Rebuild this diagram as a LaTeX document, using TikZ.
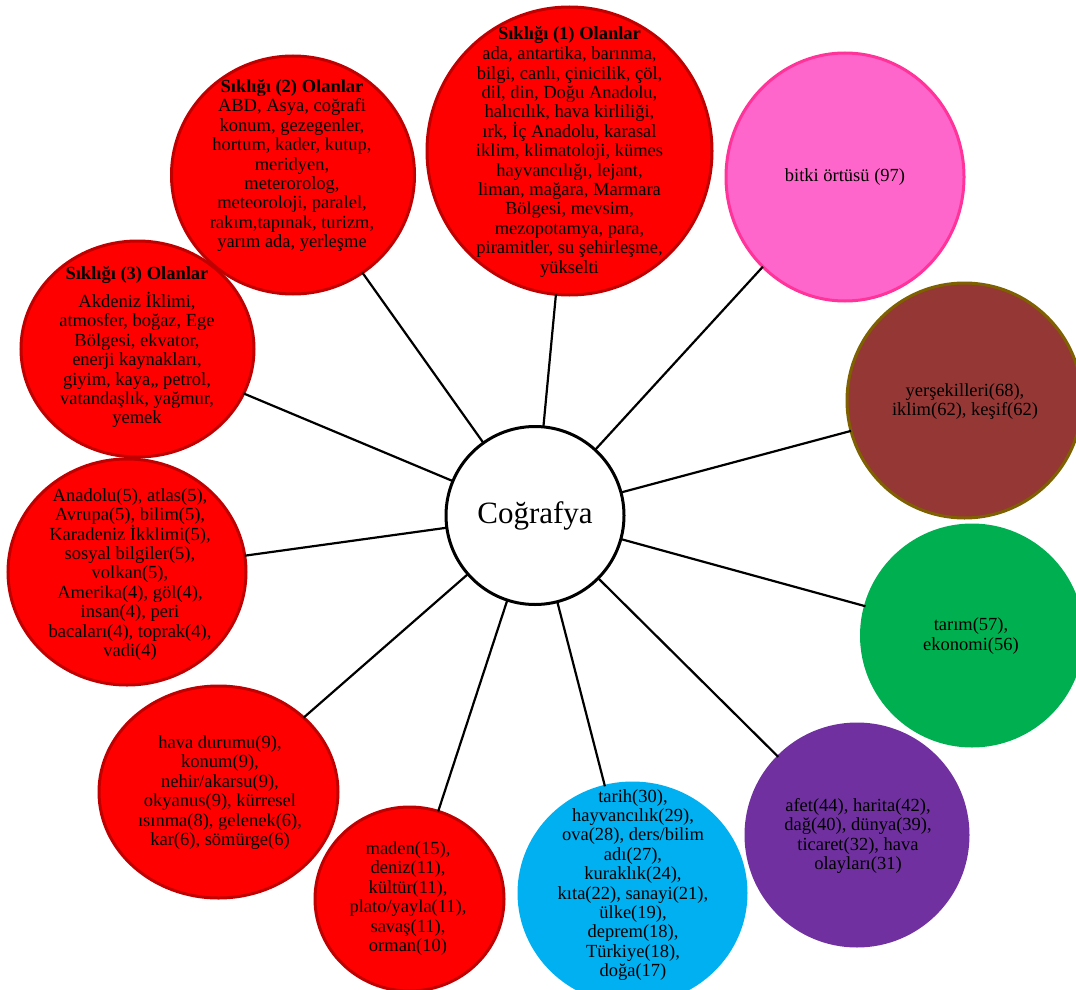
\documentclass[tikz,border=0pt]{standalone}
\usepackage{fontspec}
\setmainfont{Liberation Serif}
\usetikzlibrary{shapes.geometric}
\definecolor{rd}{HTML}{FF0000}
\definecolor{drd}{HTML}{C00000}
\definecolor{cy}{HTML}{00B0F0}
\definecolor{pu}{HTML}{7030A0}
\definecolor{gr}{HTML}{00B050}
\definecolor{br}{HTML}{953735}
\definecolor{brd}{HTML}{7F6000}
\definecolor{pk}{HTML}{FF66CC}
\definecolor{pkd}{HTML}{FF3399}
\begin{document}
\begin{tikzpicture}[x=1pt,y=-1pt,
  blob/.style={ellipse, inner sep=0pt, outer sep=0pt, line width=3pt},
  wh/.style 2 args={minimum width=#1, minimum height=#2},
  redblob/.style={blob, draw=drd, fill=rd},
  txt/.style={align=center, inner sep=0pt, font=\fontsize{18.5}{19.4}\selectfont},
  conn/.style={line width=2.2pt, black}]
\useasboundingbox (0,0) rectangle (1076,990);
\clip (0,0) rectangle (1076,990);
% circles
\node[redblob, wh={285pt}{288pt}] (s1) at (569.5,151) {};
\node[redblob, wh={233pt}{216pt}] (s3) at (137.5,349) {};
\node[redblob, wh={243pt}{238pt}] (s2) at (293,175) {};
\node[redblob, wh={238pt}{226pt}] (s4) at (127,572) {};
\node[redblob, wh={239pt}{212pt}] (s5) at (218.5,792) {};
\node[redblob, wh={189pt}{184pt}] (s6) at (409.5,899) {};
\node[blob, fill=cy, draw=cy, wh={227pt}{220pt}] (s7) at (632.5,893) {};
\node[blob, fill=pu, draw=pu, wh={222pt}{222pt}] (s8) at (857,835) {};
\node[blob, fill=gr, draw=gr, wh={221pt}{221pt}] (s9) at (972,635.5) {};
\node[blob, fill=br, draw=brd, wh={235pt}{235pt}] (s10) at (964.5,400.5) {};
\node[blob, fill=pk, draw=pkd, wh={238pt}{248pt}] (s11) at (845,177) {};
\node[blob, fill=white, draw=black, wh={178pt}{178pt}, font=\fontsize{31}{34}\selectfont] (cg) at (535,515.5) {Coğrafya};
% connectors
\foreach \n in {s1,s2,s3,s4,s5,s6,s7,s8,s9,s10,s11}
  \draw[conn] (cg) -- (\n);
% texts
\node[txt] (t1a) at (569.5,35) {\textbf{Sıklığı (1) Olanlar}};
\node[txt] (t1b) at (569.5,162) {ada, antartika, barınma,\\bilgi, canlı, çinicilik, çöl,\\dil, din, Doğu Anadolu,\\halıcılık, hava kirliliği,\\ırk, İç Anadolu, karasal\\iklim, klimatoloji, kümes\\hayvancılığı, lejant,\\liman, mağara, Marmara\\Bölgesi, mevsim,\\mezopotamya, para,\\piramitler, su şehirleşme,\\yükselti};
\node[txt] (t2) at (292,165.5) {\textbf{Sıklığı (2) Olanlar}\\ABD, Asya, coğrafi\\konum, gezegenler,\\hortum, kader, kutup,\\meridyen,\\meterorolog,\\meteoroloji, paralel,\\rakım,tapınak, turizm,\\yarım ada, yerleşme};
\node[txt] (t3a) at (137,275) {\textbf{Sıklığı (3) Olanlar}};
\node[txt] (t3b) at (137,360) {Akdeniz İklimi,\\atmosfer, boğaz, Ege\\Bölgesi, ekvator,\\enerji kaynakları,\\giyim, kaya,, petrol,\\vatandaşlık, yağmur,\\yemek};
\node[txt] (t4) at (130,574.5) {Anadolu(5), atlas(5),\\Avrupa(5), bilim(5),\\Karadeniz İkklimi(5),\\sosyal bilgiler(5),\\volkan(5),\\Amerika(4), göl(4),\\insan(4), peri\\bacaları(4), toprak(4),\\vadi(4)};
\node[txt] (t5) at (220,792.5) {hava durumu(9),\\konum(9),\\nehir/akarsu(9),\\okyanus(9), kürresel\\ısınma(8), gelenek(6),\\kar(6), sömürge(6)};
\node[txt] (t6) at (408,898.5) {maden(15),\\deniz(11),\\kültür(11),\\plato/yayla(11),\\savaş(11),\\orman(10)};
\node[txt] (t7) at (633,885) {tarih(30),\\hayvancılık(29),\\ova(28), ders/bilim\\adı(27),\\kuraklık(24),\\kıta(22), sanayi(21),\\ülke(19),\\deprem(18),\\Türkiye(18),\\doğa(17)};
\node[txt] (t8) at (858,836) {afet(44), harita(42),\\dağ(40), dünya(39),\\ticaret(32), hava\\olayları(31)};
\node[txt] (t9) at (971,636) {tarım(57),\\ekonomi(56)};
\node[txt] (t10) at (965,401.5) {yerşekilleri(68),\\iklim(62), keşif(62)};
\node[txt] (t11) at (845,177) {bitki örtüsü (97)};
\end{tikzpicture}
\end{document}
